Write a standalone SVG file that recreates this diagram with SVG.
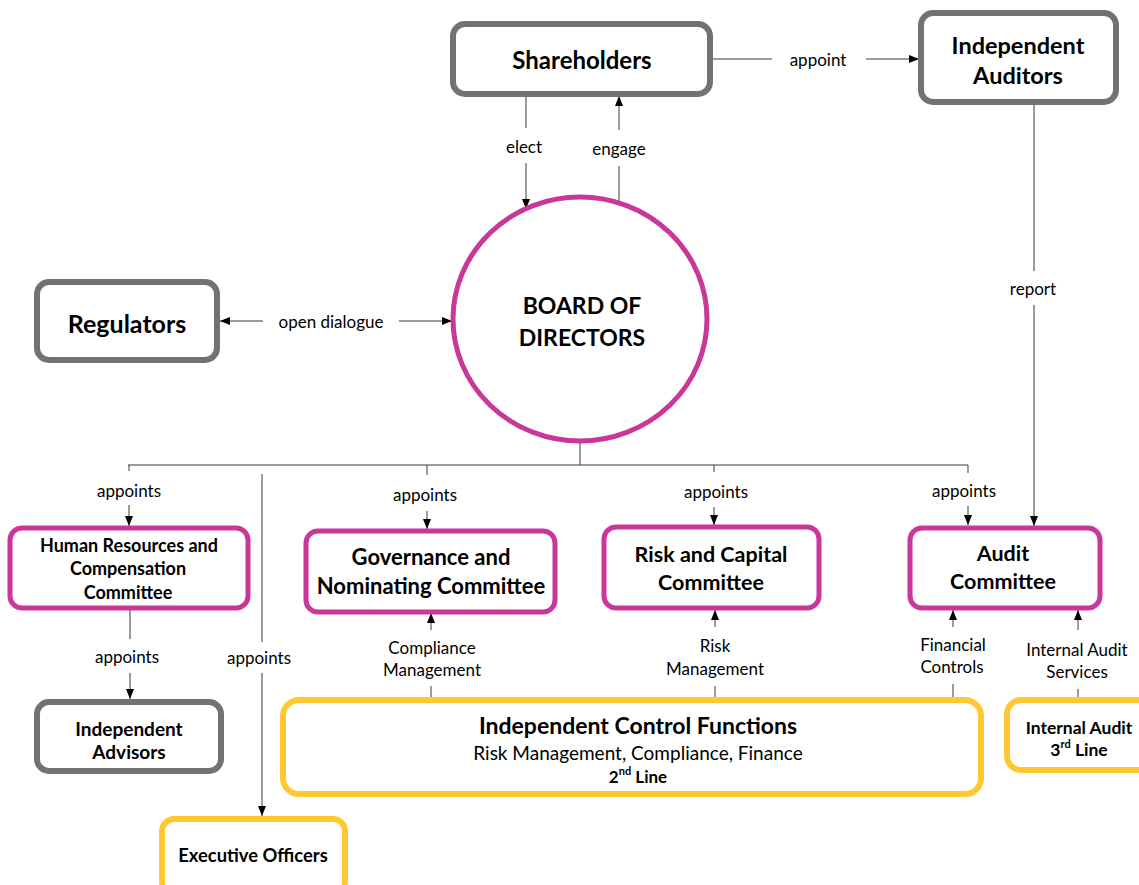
<svg xmlns="http://www.w3.org/2000/svg" width="1139" height="885" viewBox="0 0 1139 885">
<style>
.bg{fill:#ffffff}
.gray{fill:#ffffff;stroke:#767171;stroke-width:6}
.mag{fill:#ffffff;stroke:#C9379A;stroke-width:5}
.yel{fill:#ffffff;stroke:#FFC832;stroke-width:6}
.t{font-family:Lato,"Open Sans","Liberation Sans",sans-serif;fill:#000000;text-anchor:middle;dominant-baseline:central}
.b{font-weight:bold}
.lbl{font-size:17px}
.c{fill:none;stroke:#3a3a3a;stroke-width:1}
</style>
<defs>
<marker id="ah" viewBox="0 0 10 10" refX="10" refY="5" markerWidth="10" markerHeight="10" markerUnits="userSpaceOnUse" orient="auto-start-reverse">
<path d="M0,1 L10,5 L0,9 z" fill="#000000"/>
</marker>
</defs>
<rect class="bg" x="0" y="0" width="1139" height="885"/>

<g id="connectors">
<line class="c" x1="711" y1="59" x2="772" y2="59"/>
<line class="c" x1="866" y1="59" x2="919" y2="59" marker-end="url(#ah)"/>
<text class="t lbl" x="818" y="59">appoint</text>
<line class="c" x1="526" y1="95" x2="526" y2="128"/>
<line class="c" x1="526" y1="163" x2="526" y2="209" marker-end="url(#ah)"/>
<text class="t lbl" x="524" y="146">elect</text>
<line class="c" x1="619" y1="205" x2="619" y2="166"/>
<line class="c" x1="619" y1="130" x2="619" y2="96" marker-end="url(#ah)"/>
<text class="t lbl" x="619" y="148">engage</text>
<line class="c" x1="220" y1="321" x2="263" y2="321" marker-start="url(#ah)"/>
<line class="c" x1="399" y1="321" x2="452" y2="321" marker-end="url(#ah)"/>
<text class="t lbl" x="331" y="321">open dialogue</text>
<line class="c" x1="1034" y1="104" x2="1034" y2="271"/>
<line class="c" x1="1034" y1="305" x2="1034" y2="526" marker-end="url(#ah)"/>
<text class="t lbl" x="1033" y="288">report</text>
<line class="c" x1="580" y1="441" x2="580" y2="465"/>
<line class="c" x1="128" y1="465" x2="968" y2="465"/>
<line class="c" x1="129" y1="465" x2="129" y2="471"/>
<line class="c" x1="129" y1="505" x2="129" y2="526" marker-end="url(#ah)"/>
<text class="t lbl" x="129" y="490">appoints</text>
<line class="c" x1="427" y1="465" x2="427" y2="475"/>
<line class="c" x1="427" y1="511" x2="427" y2="529" marker-end="url(#ah)"/>
<text class="t lbl" x="425" y="494">appoints</text>
<line class="c" x1="714" y1="465" x2="714" y2="472"/>
<line class="c" x1="714" y1="507" x2="714" y2="525" marker-end="url(#ah)"/>
<text class="t lbl" x="716" y="491">appoints</text>
<line class="c" x1="968" y1="465" x2="968" y2="473"/>
<line class="c" x1="968" y1="506" x2="968" y2="525" marker-end="url(#ah)"/>
<text class="t lbl" x="964" y="490">appoints</text>
<line class="c" x1="130" y1="610" x2="130" y2="639"/>
<line class="c" x1="130" y1="673" x2="130" y2="699" marker-end="url(#ah)"/>
<text class="t lbl" x="127" y="656">appoints</text>
<line class="c" x1="262" y1="474" x2="262" y2="642"/>
<line class="c" x1="262" y1="673" x2="262" y2="816" marker-end="url(#ah)"/>
<text class="t lbl" x="259" y="657">appoints</text>
<line class="c" x1="431" y1="630" x2="431" y2="613" marker-end="url(#ah)"/>
<line class="c" x1="431" y1="686" x2="431" y2="699"/>
<text class="t lbl" x="432" y="647">Compliance</text>
<text class="t lbl" x="432" y="669">Management</text>
<line class="c" x1="715" y1="627" x2="715" y2="610" marker-end="url(#ah)"/>
<line class="c" x1="715" y1="686" x2="715" y2="698"/>
<text class="t lbl" x="715" y="645">Risk</text>
<text class="t lbl" x="715" y="668">Management</text>
<line class="c" x1="953" y1="627" x2="953" y2="610" marker-end="url(#ah)"/>
<line class="c" x1="953" y1="684" x2="953" y2="698"/>
<text class="t lbl" x="953" y="644">Financial</text>
<text class="t lbl" x="952" y="666">Controls</text>
<line class="c" x1="1078" y1="630" x2="1078" y2="610" marker-end="url(#ah)"/>
<line class="c" x1="1078" y1="689" x2="1078" y2="698"/>
<text class="t lbl" x="1077" y="649">Internal Audit</text>
<text class="t lbl" x="1077" y="671">Services</text>
</g>

<g id="shareholders">
<rect class="gray" x="453" y="24" width="257" height="70" rx="12"/>
<text class="t b" x="582" y="59" font-size="24">Shareholders</text>
</g>
<g id="independent-auditors">
<rect class="gray" x="921" y="13" width="195" height="89" rx="12"/>
<text class="t b" x="1018" y="45" font-size="23.5">Independent</text>
<text class="t b" x="1018" y="75" font-size="23.5">Auditors</text>
</g>
<g id="board">
<ellipse cx="580" cy="319" rx="127" ry="122" fill="#ffffff" stroke="#C9379A" stroke-width="5"/>
<text class="t b" x="582" y="305" font-size="23">BOARD OF</text>
<text class="t b" x="582" y="337" font-size="23">DIRECTORS</text>
</g>
<g id="regulators">
<rect class="gray" x="37" y="282" width="180" height="78" rx="12"/>
<text class="t b" x="127" y="323" font-size="25">Regulators</text>
</g>
<g id="hr-committee">
<rect class="mag" x="10" y="528" width="238" height="80" rx="12"/>
<text class="t b" x="129" y="545" font-size="18">Human Resources and</text>
<text class="t b" x="128" y="568" font-size="18">Compensation</text>
<text class="t b" x="128" y="592" font-size="18">Committee</text>
</g>
<g id="governance-committee">
<rect class="mag" x="306" y="531" width="249" height="81" rx="12"/>
<text class="t b" x="431" y="556" font-size="22">Governance and</text>
<text class="t b" x="431" y="585" font-size="22">Nominating Committee</text>
</g>
<g id="risk-committee">
<rect class="mag" x="604" y="527" width="215" height="81" rx="12"/>
<text class="t b" x="711" y="554" font-size="21.5">Risk and Capital</text>
<text class="t b" x="711" y="582" font-size="21.5">Committee</text>
</g>
<g id="audit-committee">
<rect class="mag" x="910" y="528" width="190" height="80" rx="12"/>
<text class="t b" x="1003" y="553" font-size="21.5">Audit</text>
<text class="t b" x="1003" y="581" font-size="21.5">Committee</text>
</g>
<g id="independent-advisors">
<rect class="gray" x="37" y="702" width="184" height="69" rx="12"/>
<text class="t b" x="129" y="728" font-size="19">Independent</text>
<text class="t b" x="129" y="751" font-size="19">Advisors</text>
</g>
<g id="executive-officers">
<rect class="yel" x="162" y="819" width="183" height="75" rx="12"/>
<text class="t b" x="253" y="855" font-size="18.4">Executive Officers</text>
</g>
<g id="control-functions">
<rect class="yel" x="283" y="700" width="698" height="94" rx="16"/>
<text class="t b" x="638" y="725" font-size="23">Independent Control Functions</text>
<text class="t" x="638" y="752" font-size="19">Risk Management, Compliance, Finance</text>
<text class="t b" x="638" y="776" font-size="17">2<tspan font-size="11" dy="-6">nd</tspan><tspan dy="6"> Line</tspan></text>
</g>
<g id="internal-audit">
<rect class="yel" x="1007" y="700" width="150" height="70" rx="14"/>
<text class="t b" x="1079" y="727" font-size="17.5">Internal Audit</text>
<text class="t b" x="1079" y="749" font-size="17.5">3<tspan font-size="11" dy="-6">rd</tspan><tspan dy="6"> Line</tspan></text>
</g>
</svg>
